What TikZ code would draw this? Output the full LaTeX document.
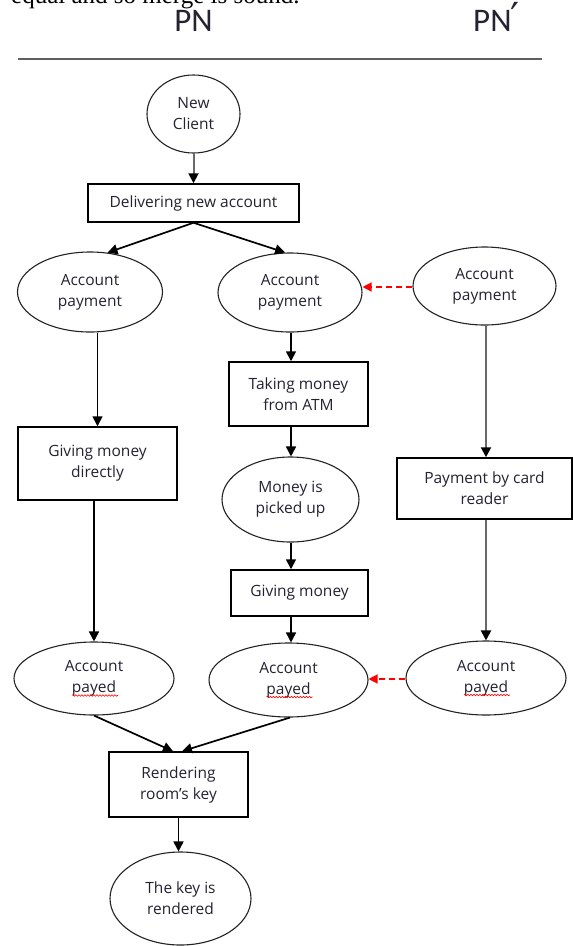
\documentclass[tikz,border=0pt]{standalone}
\usepackage{fontspec}
\setmainfont{Open Sans}
\newfontfamily\capfont{Carlito}
\newfontfamily\primefont{DejaVu Sans}
\newfontfamily\serifbody{Liberation Serif}
\usetikzlibrary{arrows.meta,shapes.geometric,calc,decorations.pathmorphing}
\definecolor{textc}{RGB}{35,35,50}
\definecolor{ovalc}{RGB}{35,35,35}
\definecolor{linegray}{RGB}{105,105,105}
\definecolor{rulegray}{RGB}{95,95,95}
\begin{document}
\begin{tikzpicture}[x=1pt,y=-1pt,
  txt/.style={font=\fontsize{15.5}{21}\selectfont, text=textc, align=center, inner sep=0pt},
  oval/.style={ellipse, draw=ovalc, line width=1.1pt, txt},
  stepbox/.style={rectangle, draw=black, line width=1.5pt, txt},
  flow/.style={-{Triangle[length=10pt,width=10pt]}, line width=1.7pt},
  grayflow/.style={-{Triangle[length=10pt,width=10pt,color=black]}, draw=linegray, line width=2pt},
  merge/.style={draw=red, dash pattern=on 6pt off 4pt, line width=1.4pt, -{Triangle[length=9pt,width=9pt,color=red]}},
  typo/.style={draw=red, line width=0.6pt, decorate, decoration={snake,segment length=3pt,amplitude=0.8pt}},
  head/.style={font=\capfont\fontsize{33}{33}\selectfont, text=textc, inner sep=0pt}
]
\useasboundingbox (0,0) rectangle (573,946);
\fill[white] (0,0) rectangle (573,946);

% cut-off body text at the top
\node[font=\serifbody\fontsize{25}{25}\selectfont, anchor=base west, inner sep=0pt] (topline) at (11,3) {equal and so merge is sound.};

% headers
\node[head] (pn) at (193.5,21) {PN};
\node[head, anchor=base west] (pnp) at ([xshift=-2pt]pn.base -| 475,0) {PN{\primefont\fontsize{40}{40}\selectfont\kern-1pt ′}};
\coordinate (r1) at (18,59);
\coordinate (r2) at (542,59);
\draw[draw=rulegray, line width=1.4pt] (r1) -- (r2);

% nodes
\node[oval, minimum width=93pt, minimum height=78pt] (nc) at (193.5,114) {New\\Client};
\node[stepbox, minimum width=211pt, minimum height=38pt] (dl) at (193.5,203) {Delivering new account};
\node[oval, minimum width=145pt, minimum height=80pt] (ap1) at (90,292) {Account\\payment};
\node[oval, minimum width=144pt, minimum height=79pt] (ap2) at (290,292.5) {Account\\payment};
\node[oval, minimum width=143pt, minimum height=78pt] (ap3) at (484.5,286) {Account\\payment};
\node[stepbox, minimum width=159pt, minimum height=73pt] (gd) at (97.5,463.5) {Giving money\\directly};
\node[stepbox, minimum width=139pt, minimum height=64pt] (ta) at (298.5,394) {Taking money\\from ATM};
\node[oval, minimum width=137pt, minimum height=85pt] (mp) at (290.5,499.5) {Money is\\picked up};
\node[stepbox, minimum width=137pt, minimum height=46pt] (gm) at (299.5,593) {Giving money};
\node[stepbox, minimum width=175pt, minimum height=61pt] (pc) at (484.5,488.5) {Payment by card\\reader};
\node[oval, minimum width=160pt, minimum height=73pt] (pa1) at (94,678.5) {Account\\payed};
\node[oval, minimum width=159pt, minimum height=74pt] (pa2) at (288.5,680) {Account\\payed};
\node[oval, minimum width=160pt, minimum height=74pt] (pa3) at (486,678) {Account\\payed};
\node[stepbox, minimum width=139pt, minimum height=65pt] (rk) at (178.5,784.5) {Rendering\\room’s key};
\node[oval, minimum width=141pt, minimum height=93pt] (kr) at (180.5,898.5) {The key is\\rendered};

% spell-check underlines
\draw[typo] ([xshift=-22pt,yshift=-17pt]pa1.center) -- ++(46,0);
\draw[typo] ([xshift=-22pt,yshift=-17pt]pa2.center) -- ++(46,0);
\draw[typo] ([xshift=-22pt,yshift=-17pt]pa3.center) -- ++(46,0);

% connectors
\draw[grayflow] (nc) -- (dl);
\draw[flow] (dl.south) -- (ap1.66);
\draw[flow] (dl.south) -- (ap2.97);
\draw[flow] (gd.north |- ap1.south) -- (gd.north);
\draw[flow] (pa1.north |- gd.south) -- (pa1.north);
\draw[flow] ([xshift=1pt]ap2.south) -- ([xshift=1pt]ap2.south |- ta.north);
\draw[flow] ([xshift=0.5pt]mp.north |- ta.south) -- ([xshift=0.5pt]mp.north);
\draw[flow] ([xshift=0.5pt]mp.south) -- ([xshift=0.5pt]mp.south |- gm.north);
\draw[flow] ([xshift=0.5pt]mp.south |- gm.south) -- ([xshift=0.5pt]mp.south |- pa2.north);
\draw[grayflow] ([xshift=1.5pt]ap3.south) -- ([xshift=1.5pt]ap3.south |- pc.north);
\draw[grayflow] ([xshift=1.5pt]pc.south) -- (pa3.north);
\draw[flow] (pa1.south) -- ([xshift=-5.5pt]rk.north);
\draw[flow] ([xshift=1.5pt]pa2.south) -- ([xshift=3.5pt]rk.north);
\draw[flow] (rk.south) -- (rk.south |- kr.north);
\draw[merge] ([yshift=-1pt]ap3.west) -- ([yshift=-1pt]ap3.west -| ap2.east);
\draw[merge] ([yshift=-1pt]pa3.west) -- ([yshift=-1pt]pa3.west -| pa2.east);
\end{tikzpicture}
\end{document}
